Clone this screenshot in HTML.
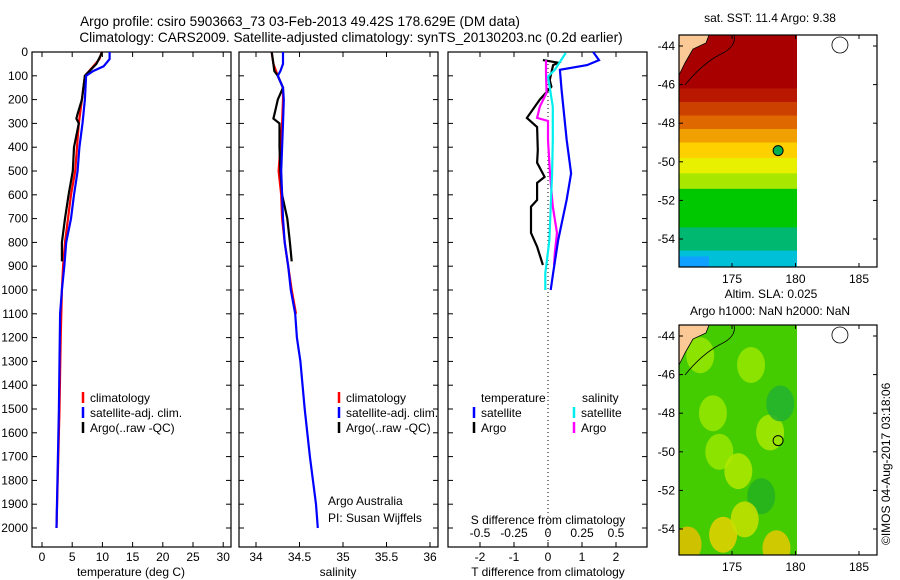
<!DOCTYPE html>
<html><head><meta charset="utf-8">
<style>
html,body{margin:0;padding:0;background:#fff;}
svg{display:block;font-family:"Liberation Sans",sans-serif;font-size:12px;}
.tt{font-size:13.6px;}
</style></head>
<body>
<svg id="c" width="900" height="580" xmlns="http://www.w3.org/2000/svg">
<text class="tt" x="300" y="26" text-anchor="middle">Argo profile: csiro 5903663_73 03-Feb-2013 49.42S 178.629E (DM data)</text>
<text class="tt" x="351" y="42" text-anchor="middle">Climatology: CARS2009. Satellite-adjusted climatology: synTS_20130203.nc (0.2d earlier)</text>
<text x="770" y="22" text-anchor="middle">sat. SST: 11.4 Argo: 9.38</text>
<text x="771" y="298" text-anchor="middle">Altim. SLA: 0.025</text>
<text x="770" y="315" text-anchor="middle">Argo h1000: NaN h2000: NaN</text>
<text transform="translate(890,545) rotate(-90)">©IMOS 04-Aug-2017 03:18:06</text>
<g id="g"></g>
</svg>
<script>
// ---------- data ----------
const tempClimDepth=[0,30,60,100,200,300,400,500,600,700,800,900,1000,1200,1500,1800,2000];
const tempClim=[9.9,9.5,8.5,7.1,6.6,6.1,5.8,5.5,4.8,4.3,3.8,3.5,3.3,3.1,2.9,2.6,2.4];
const tempSatDepth=[0,30,60,80,100,200,300,400,500,600,700,800,900,1000,1100,1500,2000];
const tempSat=[11.2,11.2,10.2,8.5,7.3,7.1,6.7,6.2,5.9,5.3,4.8,4.0,3.7,3.3,3.0,2.8,2.4];
const tempArgoDepth=[0,10,50,100,200,260,280,300,400,500,600,700,800,880];
const tempArgo=[9.9,9.8,9.0,7.1,6.6,5.9,5.7,6.1,5.3,5.1,4.4,3.8,3.3,3.3];
const salClimDepth=[0,50,100,150,200,300,400,500,600,700,800,900,1000,1100];
const salClim=[34.18,34.2,34.25,34.31,34.31,34.3,34.28,34.26,34.29,34.3,34.33,34.37,34.41,34.46];
const salSatDepth=[0,50,80,100,150,200,300,400,500,600,700,800,900,1000,1100,1200,1300,1500,1700,1900,2000];
const salSat=[34.31,34.31,34.28,34.25,34.31,34.32,34.31,34.3,34.29,34.3,34.31,34.33,34.37,34.4,34.45,34.47,34.51,34.56,34.62,34.69,34.71];
const salArgoDepth=[0,50,80,100,150,200,250,280,300,400,500,600,700,800,880];
const salArgo=[34.18,34.2,34.21,34.25,34.31,34.25,34.22,34.2,34.27,34.27,34.28,34.3,34.36,34.39,34.41];
const dTSatDepth=[0,34,55,75,160,370,510,620,790,930,1000];
const dTSat=[1.33,1.5,1.15,0.35,0.4,0.55,0.68,0.55,0.3,0.15,0.08];
const dTArgoDepth=[34,45,55,118,146,200,277,315,412,465,525,550,622,650,760,818,895];
const dTArgo=[-0.15,0.3,0.15,0.05,0.1,-0.24,-0.62,-0.32,-0.3,-0.32,-0.1,-0.32,-0.32,-0.5,-0.5,-0.32,-0.15];
const dSArgoDepth=[34,89,172,230,277,290,370,510,650,760,845,895];
const dSArgo=[-0.015,-0.015,-0.01,-0.06,-0.08,-0.0,0.0,0.015,0.035,0.066,0.05,0.045];
const dSSatDepth=[4,75,103,230,370,510,650,790,930,1000];
const dSSat=[0.13,0.05,0.0,0.035,0.035,0.03,0.02,0.01,-0.02,-0.02];
const depthTicks=[0,100,200,300,400,500,600,700,800,900,1000,1100,1200,1300,1400,1500,1600,1700,1800,1900,2000];
const tempTicks=[0,5,10,15,20,25,30];
const salTicks=[34,34.5,35,35.5,36];
const salTickLabels=["34","34.5","35","35.5","36"];
const dTTicks=[-2,-1,0,1,2];
const dSTicks=[-0.5,-0.25,0,0.25,0.5];
const dSTickLabels=["-0.5","-0.25","0","0.25","0.5"];
const latTicks=[-44,-46,-48,-50,-52,-54];
const lonTicks=[175,180,185];
const argoLon=178.63, argoLat=-49.42;
const sstBandLat=[-43.8,-46.2,-46.9,-47.6,-48.3,-49.0,-49.8,-50.6,-51.4,-53.4,-54.6];
const sstBandCol=["#a80000","#b81800","#cc4000","#e06800","#f0a000","#ffd000","#e8f000","#a8e800","#00c800","#00b870","#00c0d8"];
const slaLon=[172.5,176.5,174,178,171.5,174.3,178.5,177.3,178.8,173.5,175.5,176];
const slaLat=[-45,-45.5,-50,-49,-54.8,-54.3,-55,-52.3,-47.5,-48,-51,-53.5];
const slaCol=["#99e600","#99e600","#99e600","#a8e800","#e6c000","#e6d000","#e6c800","#22b020","#22b030","#99e600","#b0e800","#c8e000"];
// ---------- drawing ----------
const NS="http://www.w3.org/2000/svg";
const g=document.getElementById('g');
function el(t,a,p){const e=document.createElementNS(NS,t);for(const k in a)e.setAttribute(k,a[k]);(p||g).appendChild(e);return e;}
const Y0=52, PX100=23.8, BOT=547;
const yD=d=>Y0+d*PX100/100;
const xT=v=>42+v*6.04;
const xS=v=>256+(v-34)*87;
const xdT=v=>548+v*34;
const xdS=v=>548+v*136;
const panels=[[32,231],[239,438],[448,647]];
panels.forEach((p,i)=>{
 const r=el('rect',{x:p[0],y:52,width:p[1]-p[0],height:BOT-52,fill:'none',stroke:'#000','stroke-width':1.2});
 
 
 depthTicks.forEach(d=>{
  const y=yD(d);
  el('line',{x1:p[0],x2:p[0]+5,y1:y,y2:y,stroke:'#000'});
  el('line',{x1:p[1]-5,x2:p[1],y1:y,y2:y,stroke:'#000'});
 });
});
depthTicks.forEach(d=>{
 const t=el('text',{x:28,y:yD(d)+4,'text-anchor':'end'});t.textContent=d;
 
 
});
function xticks(vals,labels,fx,ly,top,bottom,nm){
 vals.forEach((v,i)=>{const x=fx(v);
  if(bottom)el('line',{x1:x,x2:x,y1:BOT-5,y2:BOT,stroke:'#000'});
  if(top)el('line',{x1:x,x2:x,y1:52,y2:57,stroke:'#000'});
  const t=el('text',{x:x,y:ly,'text-anchor':'middle'});t.textContent=labels[i];
  
  
 });
}
xticks(tempTicks,tempTicks.map(String),xT,561,true,true,'temp-tick-label');
xticks(salTicks,salTickLabels,xS,561,true,true,'salinity-tick-label');
xticks(dTTicks,dTTicks.map(String),xdT,561,true,true,'tdiff-tick-label');
xticks(dSTicks,dSTickLabels,xdS,537,false,false,'sdiff-tick-label');
function lab(x,y,s,nm,anch){const t=el('text',{x:x,y:y,'text-anchor':anch||'middle'});t.textContent=s;return t;}
lab(131,576,'temperature (deg C)','temp-axis-title');
lab(338,576,'salinity','salinity-axis-title');
lab(548,576,'T difference from climatology','tdiff-axis-title');
lab(548,524,'S difference from climatology','sdiff-axis-title');
lab(328,505,'Argo Australia','credit-1','start');
lab(328,522,'PI: Susan Wijffels','credit-2','start');
el('line',{x1:548,x2:548,y1:52,y2:BOT,stroke:'#000','stroke-dasharray':'1,3'});
function line(xs,ds,fx,col,nm){
 const pts=xs.map((v,i)=>fx(v).toFixed(1)+','+yD(ds[i]).toFixed(1)).join(' ');
 const e=el('polyline',{points:pts,fill:'none',stroke:col,'stroke-width':2.2});
 
 
}
line(tempClim,tempClimDepth,xT,'#ff0000','temp-climatology-line');
line(tempArgo,tempArgoDepth,xT,'#000','temp-argo-line');
line(tempSat,tempSatDepth,xT,'#0000ff','temp-satellite-line');
line(salClim,salClimDepth,xS,'#ff0000','sal-climatology-line');
line(salArgo,salArgoDepth,xS,'#000','sal-argo-line');
line(salSat,salSatDepth,xS,'#0000ff','sal-satellite-line');
line(dTArgo,dTArgoDepth,xdT,'#000','tdiff-argo-line');
line(dSArgo,dSArgoDepth,xdS,'#ff00ff','sdiff-argo-line');
line(dSSat,dSSatDepth,xdS,'#00eeee','sdiff-satellite-line');
line(dTSat,dTSatDepth,xdT,'#0000ff','tdiff-satellite-line');
function leg(x,y,col,s,nm){el('line',{x1:x,x2:x,y1:y-10,y2:y+1,stroke:col,'stroke-width':2.5});if(s)lab(x+7,y,s,nm,'start');}
[[83,'climatology','#ff0000'],[83,'satellite-adj. clim.','#0000ff'],[83,'Argo(..raw -QC)','#000']].forEach((a,i)=>leg(a[0],402+i*15,a[2],a[1],'temp-legend-entry'));
[[339,'climatology','#ff0000'],[339,'satellite-adj. clim.','#0000ff'],[339,'Argo(..raw -QC)','#000']].forEach((a,i)=>leg(a[0],402+i*15,a[2],a[1],'sal-legend-entry'));
lab(481,402,'temperature','diff-legend-temp-heading','start');
lab(582,402,'salinity','diff-legend-sal-heading','start');
leg(474,417,'#0000ff','satellite','diff-legend-tsat');
leg(474,432,'#000','Argo','diff-legend-targo');
leg(574,417,'#00eeee','satellite','diff-legend-ssat');
leg(574,432,'#ff00ff','Argo','diff-legend-sargo');
function map(top,bot,lat44,lat54,idx){
 const L=679,R=877,DR=797;
 const lx=v=>732+(v-175)*12.7;
 const ly=v=>lat44+(-44-v)*(lat54-lat44)/10;
 const grp=el('g',{});
 
 
 const cid='clip'+idx;
 const cp=el('clipPath',{id:cid},grp);el('rect',{x:L,y:top,width:DR-L,height:bot-top},cp);
 const dg=el('g',{'clip-path':'url(#'+cid+')'},grp);
 if(idx==1){
  sstBandLat.forEach((b,i)=>{
   const y1=i==0?top:ly(b);
   const r=el('rect',{x:L,y:y1,width:DR-L,height:Math.max(0,bot-y1),fill:sstBandCol[i]},dg);
   
   
  });
  el('rect',{x:L,y:ly(-54.9),width:30,height:bot,fill:'#10a0ff'},dg);
 } else {
  el('rect',{x:L,y:top,width:DR-L,height:bot-top,fill:'#44cc00'},dg);
  slaLon.forEach((v,i)=>{
   const e=el('ellipse',{cx:lx(v),cy:ly(slaLat[i]),rx:14,ry:18,fill:slaCol[i],opacity:0.85},dg);
   
   
  });
 }
 el('path',{d:`M${L},${top} L${L+30},${top} L${L+27},${top+8} L${L+14},${top+14} L${L+6},${top+28} L${L},${top+40} Z`,fill:'#fbc996',stroke:'#000','stroke-width':0.8},grp);
 el('path',{d:`M${L+55},${top} Q${L+58},${top+12} ${L+40},${top+20} Q${L+22},${top+30} ${L+6},${top+50}`,fill:'none',stroke:'#000','stroke-width':0.8},grp);
 el('ellipse',{cx:lx(183.5),cy:top+10,rx:8,ry:8,fill:'none',stroke:'#000','stroke-width':0.8},grp);
 const m=el('circle',{cx:lx(argoLon),cy:ly(argoLat),r:5,fill:idx==1?'#00b050':'none',stroke:'#000','stroke-width':1},grp);
 
 
 el('rect',{x:L,y:top,width:R-L,height:bot-top,fill:'none',stroke:'#000','stroke-width':1.2},grp);
 latTicks.forEach(v=>{const y=ly(v);
  el('line',{x1:L,x2:L+4,y1:y,y2:y,stroke:'#000'},grp);el('line',{x1:R-4,x2:R,y1:y,y2:y,stroke:'#000'},grp);
  const t=lab(675,y+4,String(v),'lat-tick-label','end');grp.appendChild(t);});
 lonTicks.forEach(v=>{const x=lx(v);
  el('line',{x1:x,x2:x,y1:top,y2:top+4,stroke:'#000'},grp);el('line',{x1:x,x2:x,y1:bot-4,y2:bot,stroke:'#000'},grp);
  const t=lab(x,bot+16,String(v),'lon-tick-label');grp.appendChild(t);});
}
map(35,267,46,239,1);
map(325,555,336,529,2);
</script>
</body></html>
